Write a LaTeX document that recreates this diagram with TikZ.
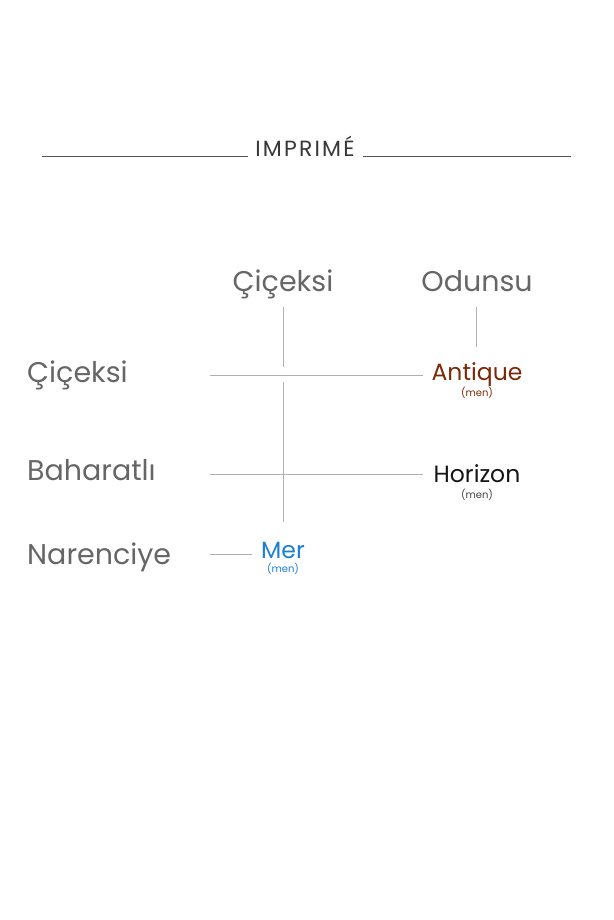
\documentclass[tikz,border=0pt]{standalone}
\usepackage{fontspec}
\setmainfont{Poppins}
\definecolor{labgray}{HTML}{666666}
\definecolor{linegray}{HTML}{B0B0B0}
\definecolor{titleline}{HTML}{555555}
\definecolor{antique}{HTML}{7A2A08}
\definecolor{merblue}{HTML}{1B7FD6}
\definecolor{horizon}{HTML}{151515}
\tikzset{
  big/.style={font=\fontsize{28.5}{28.5}\selectfont, text=labgray, inner sep=0pt, anchor=base},
  perf/.style={font=\fontsize{23.5}{23.5}\selectfont, inner sep=0pt, anchor=base},
  small/.style={font=\fontsize{10}{10}\selectfont, inner sep=0pt, anchor=base},
  conn/.style={draw=linegray, line width=1pt},
  tline/.style={draw=titleline, line width=1pt}
}
\begin{document}
\begin{tikzpicture}[x=1pt,y=-1pt]
\useasboundingbox[fill=white] (0,0) rectangle (613,920);
% title
\node[font=\fontsize{22}{22}\selectfont\addfontfeature{LetterSpace=10}, text=horizon!85, inner sep=0pt, anchor=base] (title) at (305,157) {IMPRIMÉ};
\coordinate (tl1) at (42,157);
\coordinate (tl2) at (248,157);
\coordinate (tr1) at (363,157);
\coordinate (tr2) at (571,157);
\draw[tline] (tl1) -- (tl2);
\draw[tline] (tr1) -- (tr2);
% column headers
\node[big] (colC) at (283,291) {Çiçeksi};
\node[big] (colO) at (477,291) {Odunsu};
% row labels
\node[big, anchor=base west] (rowC) at (27,382) {Çiçeksi};
\node[big, anchor=base west] (rowB) at (27,480) {Baharatlı};
\node[big, anchor=base west] (rowN) at (27,564) {Narenciye};
% perfumes
\node[perf, text=antique] (antique) at (477,380) {Antique};
\node[small, text=antique] (antiqueM) at (477,396) {(men)};
\node[perf, text=horizon] (horizonN) at (477,482) {Horizon};
\node[small, text=horizon!80] (horizonM) at (477,498) {(men)};
\node[perf, text=merblue] (mer) at (283,558) {Mer};
\node[small, text=merblue] (merM) at (283,572) {(men)};
% connectors
\coordinate (v1a) at (283,307);
\coordinate (v1b) at (283,367);
\coordinate (v2a) at (283,382);
\coordinate (v2b) at (283,522);
\draw[conn] (v1a) -- (v1b);
\draw[conn] (v2a) -- (v2b);
\coordinate (o1) at (476,307);
\coordinate (o2) at (476,347);
\draw[conn] (o1) -- (o2);
\coordinate (h1a) at (210,375);
\coordinate (h1b) at (423,375);
\draw[conn] (h1a) -- (h1b);
\coordinate (h2a) at (210,474);
\coordinate (h2b) at (423,474);
\draw[conn] (h2a) -- (h2b);
\coordinate (h3a) at (210,554);
\coordinate (h3b) at (252,554);
\draw[conn] (h3a) -- (h3b);
\end{tikzpicture}
\end{document}
